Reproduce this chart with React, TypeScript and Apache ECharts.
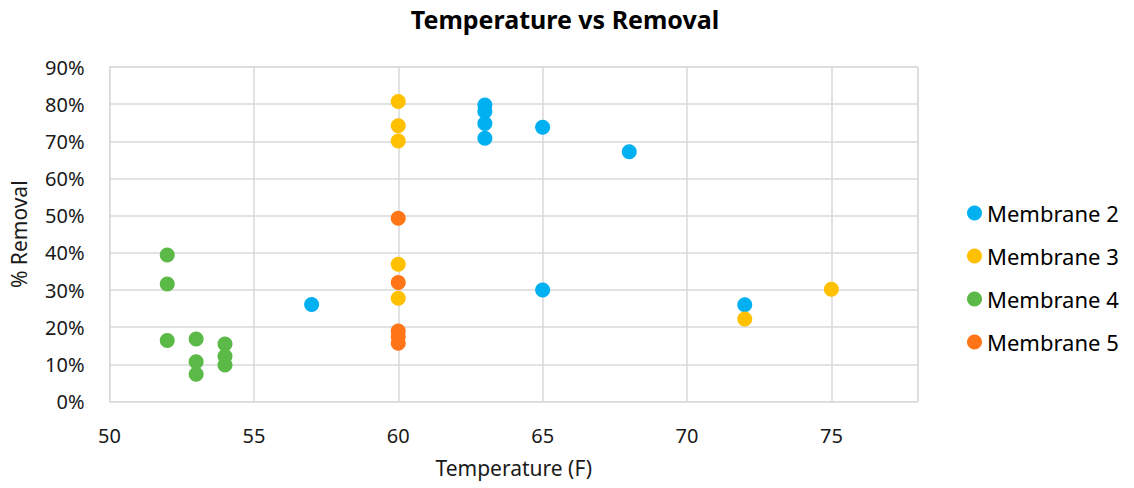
import React, { useEffect, useRef } from "react";
import * as echarts from "echarts";

// Temperature (°F) and % removal per membrane
const membrane2Temp = [57, 63, 63, 63, 63, 65, 65, 68, 72];
const membrane2Removal = [26.1, 79.8, 78.0, 74.8, 70.8, 73.8, 30.0, 67.2, 26.0];

const membrane3Temp = [60, 60, 60, 60, 60, 72, 75];
const membrane3Removal = [80.7, 74.2, 70.1, 36.9, 27.8, 22.2, 30.2];

const membrane4Temp = [52, 52, 52, 53, 53, 53, 54, 54, 54];
const membrane4Removal = [39.4, 31.6, 16.4, 16.8, 10.7, 7.3, 15.5, 12.2, 9.8];

const membrane5Temp = [60, 60, 60, 60, 60];
const membrane5Removal = [49.3, 32.0, 19.0, 17.4, 15.7];

const seriesNames = ["Membrane 2", "Membrane 3", "Membrane 4", "Membrane 5"];
const seriesColors = ["#00B0F0", "#FFC000", "#5BB947", "#FF7518"];

const zip = (xs: number[], ys: number[]) => xs.map((x, i) => [x, ys[i]]);

const FONT = "Noto Sans";

export default function App() {
  const ref = useRef<HTMLDivElement>(null);

  useEffect(() => {
    if (!ref.current) return;
    const chart = echarts.init(ref.current, undefined, { renderer: "svg" });
    const data = [
      zip(membrane2Temp, membrane2Removal),
      zip(membrane3Temp, membrane3Removal),
      zip(membrane4Temp, membrane4Removal),
      zip(membrane5Temp, membrane5Removal),
    ];
    chart.setOption({
      animation: false,
      backgroundColor: "#ffffff",
      title: {
        text: "Temperature vs Removal",
        left: 560,
        top: 1,
        textAlign: "center",
        textStyle: { fontFamily: FONT, fontSize: 25, fontWeight: "bold", color: "#000" },
      },
      legend: {
        orient: "vertical",
        left: 962,
        top: 197,
        itemWidth: 15,
        itemHeight: 15,
        itemGap: 21,
        icon: "circle",
        data: seriesNames,
        textStyle: { fontFamily: FONT, fontSize: 22, color: "#000" },
      },
      grid: {
        left: 109.5,
        right: 216,
        top: 67,
        bottom: 86.5,
        show: true,
        borderColor: "#d9d9d9",
        borderWidth: 1,
      },
      xAxis: {
        type: "value",
        min: 50,
        max: 78,
        interval: 5,
        name: "Temperature (F)",
        nameLocation: "middle",
        nameGap: 56,
        nameTextStyle: { fontFamily: FONT, fontSize: 21, color: "#1a1a1a" },
        axisLine: { show: true, lineStyle: { color: "#d9d9d9" } },
        axisTick: { show: false },
        axisLabel: {
          showMaxLabel: false,
          margin: 24,
          fontFamily: FONT,
          fontSize: 20,
          color: "#1a1a1a",
        },
        splitLine: { show: true, lineStyle: { color: "#d9d9d9", width: 1.5 } },
      },
      yAxis: {
        type: "value",
        min: 0,
        max: 90,
        interval: 10,
        name: "% Removal",
        nameLocation: "middle",
        nameGap: 80,
        nameTextStyle: { fontFamily: FONT, fontSize: 21, color: "#1a1a1a" },
        axisLine: { show: true, lineStyle: { color: "#d9d9d9" } },
        axisTick: { show: false },
        axisLabel: {
          formatter: "{value}%",
          margin: 25,
          fontFamily: FONT,
          fontSize: 20,
          color: "#1a1a1a",
        },
        splitLine: { show: true, lineStyle: { color: "#d9d9d9", width: 1.5 } },
      },
      series: seriesNames.map((name, i) => ({
        name,
        type: "scatter",
        symbol: "circle",
        symbolSize: 15,
        itemStyle: { color: seriesColors[i], opacity: 1 },
        data: data[i],
      })),
    });
    return () => chart.dispose();
  }, []);

  return (
    <div
      ref={ref}
      style={{ position: "fixed", left: 0, top: 0, width: 1134, height: 488 }}
    />
  );
}
